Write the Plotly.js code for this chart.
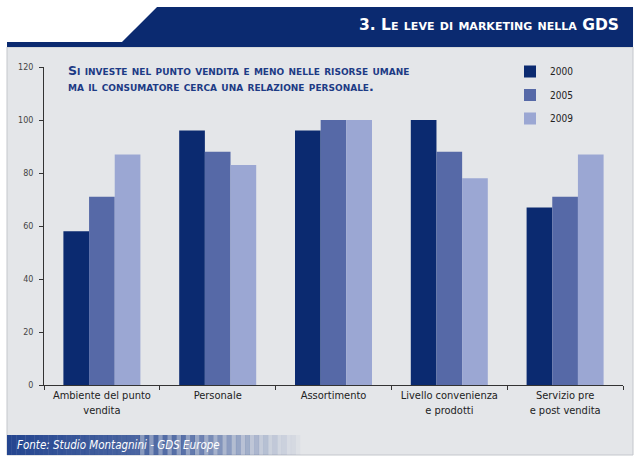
<!DOCTYPE html>
<html>
<head>
<meta charset="utf-8">
<script src="https://cdn.plot.ly/plotly-3.0.1.min.js"></script>
<style>
  html, body { margin:0; padding:0; background:#fff; }
  #chart { width:640px; height:463px; }
</style>
</head>
<body>
<div id="chart"></div>
<script>
// ─── data ───────────────────────────────────────────
const categories = [
  'Ambiente del punto<br>vendita',
  'Personale',
  'Assortimento',
  'Livello convenienza<br>e prodotti',
  'Servizio pre<br>e post vendita'
];
const years   = ['2000', '2005', '2009'];
const val2000 = [58, 96, 96, 100, 67];
const val2005 = [71, 88, 100, 88, 71];
const val2009 = [87, 83, 100, 78, 87];
const yTicks  = [0, 20, 40, 60, 80, 100, 120];

const series  = [val2000, val2005, val2009];
const colors  = ['#0b2a70', '#5669a7', '#9ba7d3'];

// ─── pixel -> paper helpers (plot area 44..623 x 67..385) ───
const L = 44, R = 623, T = 67, B = 385;
const px = x => (x - L) / (R - L);
const py = y => (B - y) / (B - T);

const NARROW = '"Liberation Sans Narrow", "DejaVu Sans Condensed", sans-serif';

const traces = series.map((vals, i) => ({
  type: 'bar',
  name: years[i],
  x: categories,
  y: vals,
  marker: { color: colors[i], line: { width: 0 } },
  legendgroup: 'g' + i,
  hoverinfo: 'skip'
}));

// background frame
const shapes = [];
shapes.push({ type:'rect', xref:'paper', yref:'paper', layer:'below',
  x0:px(7), x1:px(633), y0:py(455), y1:py(47),
  fillcolor:'#e4e6e9', line:{color:'#c4c7cc', width:1} });
// header band with slanted left edge
const hp = [[7,42],[122,42],[157,7],[633,7],[633,47],[7,47]];
shapes.push({ type:'path', xref:'paper', yref:'paper', layer:'below',
  path: 'M ' + hp.map(p => px(p[0]).toFixed(4) + ',' + py(p[1]).toFixed(4)).join(' L ') + ' Z',
  fillcolor:'#0b2a70', line:{width:0} });
// source band: dark blue fading to the right, with thin stripes
const nStrip = 64, sx0 = 7, sx1 = 300;
for (let i = 0; i < nStrip; i++) {
  const a = sx0 + (sx1 - sx0) * i / nStrip;
  const b = sx0 + (sx1 - sx0) * (i + 1) / nStrip;
  const t = i / (nStrip - 1);
  let op = t < 0.6 ? 1 - t * 0.45 : Math.max(0.05, 0.73 - (t - 0.6) * 1.7);
  if (t > 0.45 && i % 2) op *= 0.6;
  shapes.push({ type:'rect', xref:'paper', yref:'paper', layer:'below',
    x0:px(a), x1:px(b) + 0.0005, y0:py(455), y1:py(435),
    fillcolor:'#24458f', opacity:op, line:{width:0} });
}

const annotations = [
  { text:'3. Le leve di marketing nella GDS', xref:'paper', yref:'paper',
    x:px(621), y:py(25), xanchor:'right', yanchor:'middle', showarrow:false,
    font:{ family:'"DejaVu Sans", sans-serif', size:15.5, color:'#ffffff', weight:'bold', variant:'small-caps' } },
  { text:'Si investe nel punto vendita e meno nelle risorse umane<br>ma il consumatore cerca una relazione personale.',
    xref:'paper', yref:'paper', x:px(66), y:py(61), xanchor:'left', yanchor:'top', align:'left',
    showarrow:false,
    font:{ family:'"DejaVu Sans", sans-serif', size:12.5, color:'#1d3b85', weight:'bold', variant:'small-caps' } },
  { text:'<i>Fonte: Studio Montagnini - GDS Europe</i>', xref:'paper', yref:'paper',
    x:px(15), y:py(445), xanchor:'left', yanchor:'middle', showarrow:false,
    font:{ family:NARROW, size:11.5, color:'#ffffff' } }
];

const layout = {
  width:640, height:463,
  margin:{ l:L, r:640 - R, t:T, b:463 - B, pad:0 },
  paper_bgcolor:'#ffffff', plot_bgcolor:'rgba(0,0,0,0)',
  barmode:'group', bargap:0.335, bargroupgap:0,
  font:{ family:NARROW, color:'#2a2a2a' },
  xaxis:{
    type:'category', showline:true, linecolor:'#333', linewidth:1,
    ticks:'outside', tickson:'boundaries', ticklen:4, tickcolor:'#333',
    tickfont:{ family:NARROW, size:11, color:'#222' },
    showgrid:false, zeroline:false, fixedrange:true
  },
  yaxis:{
    range:[0, 120], tickvals:yTicks, showline:true, linecolor:'#333', linewidth:1,
    ticks:'outside', ticklen:4, tickcolor:'#333', ticklabelstandoff:4,
    tickfont:{ family:'"DejaVu Sans", sans-serif', size:8, color:'#444' },
    showgrid:false, zeroline:false, fixedrange:true
  },
  showlegend:true,
  legend:{
    x:px(510), y:py(57), xanchor:'left', yanchor:'top',
    bgcolor:'rgba(0,0,0,0)', tracegroupgap:4.5, itemwidth:30,
    font:{ family:NARROW, size:10, color:'#222' }
  },
  shapes, annotations
};

Plotly.newPlot('chart', traces, layout, { displayModeBar:false, staticPlot:true });
</script>
</body>
</html>
